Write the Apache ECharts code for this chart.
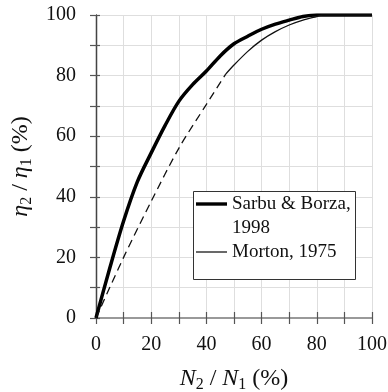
<!DOCTYPE html>
<html>
<head>
<meta charset="utf-8">
<script src="https://cdn.jsdelivr.net/npm/echarts@6/dist/echarts.min.js"></script>
</head>
<body style="margin:0">
<div id="main" style="width: 388px;height:392px;"></div>
<script>
    // 读图得到的数据
    var sarbuX = [0, 5, 10, 15, 20, 25, 30, 35, 40, 45, 50, 55, 60, 65, 70, 75, 80, 100];
    var sarbuY = [0, 16.5, 32, 45, 54.5, 63.5, 71.5, 77, 81.5, 86.5, 90.5, 93, 95.3, 97, 98.3, 99.5, 100, 100];
    var mortonX = [0, 10, 20, 30, 40, 47, 50, 55, 60, 65, 70, 75, 80, 82, 100];
    var mortonY = [0, 20, 38.5, 56, 70.5, 80.5, 83.5, 88, 91.7, 94.5, 96.7, 98.3, 99.5, 100, 100];
    var mortonDashEnd = 47;   // 虚线部分到这里为止
    var ticks = [0, 20, 40, 60, 80, 100];
    var names = ['Sarbu & Borza,\n1998', 'Morton, 1975'];

    function pairs(xs, ys, from, to) {
        var out = [];
        for (var i = 0; i < xs.length; i++) {
            if (xs[i] >= from && xs[i] <= to) out.push([xs[i], ys[i]]);
        }
        return out;
    }

    var font = 'Liberation Serif';
    var myChart = echarts.init(document.getElementById('main'));

    function baseAxis(extra) {
        var a = {
            type: 'value', min: ticks[0], max: ticks[ticks.length - 1], interval: 10,
            axisLine: {show: true, lineStyle: {color: '#555', width: 1.2}},
            axisTick: {show: true, length: 6, lineStyle: {color: '#555', width: 1.2}},
            axisLabel: {show: false},
            splitLine: {show: false}
        };
        return Object.assign(a, extra);
    }

    function tickLabel(v) {
        return ticks.indexOf(v) >= 0 ? String(v) : '';
    }

    var titleRich = {
        i: {fontFamily: font, fontStyle: 'italic', fontSize: 24, color: '#111', lineHeight: 27},
        r: {fontFamily: font, fontSize: 24, color: '#111', lineHeight: 27},
        s: {fontFamily: font, fontSize: 16, color: '#111', lineHeight: 27, padding: [12, 0, 0, 0]}
    };

    var option = {
        animation: false,
        grid: {left: 96, right: 16, top: 15, bottom: 74, outerBoundsMode: 'none'},
        xAxis: [
            baseAxis({
                position: 'bottom',
                axisLabel: {show: true, margin: 17, fontSize: 20, fontFamily: font, color: '#111', formatter: tickLabel},
                splitLine: {show: true, lineStyle: {color: '#dedede', width: 1}},
                name: '{i|N}{s|2}{r| / }{i|N}{s|1}{r| (%)}',
                nameLocation: 'middle', nameGap: 47,
                nameTextStyle: {rich: titleRich}
            }),
            baseAxis({position: 'bottom', axisTick: {show: true, inside: true, length: 6, lineStyle: {color: '#555', width: 1.2}}}),
            baseAxis({position: 'top', axisTick: {show: false}, axisLine: {show: true, lineStyle: {color: '#999', width: 2}}})
        ],
        yAxis: [
            baseAxis({
                position: 'left',
                axisLabel: {show: true, margin: 20, fontSize: 20, fontFamily: font, color: '#111', formatter: tickLabel},
                splitLine: {show: true, lineStyle: {color: '#dedede', width: 1}},
                name: '{i|η}{s|2}{r| / }{i|η}{s|1}{r| (%)}',
                nameLocation: 'middle', nameGap: 47, nameRotate: 90,
                nameTextStyle: {rich: titleRich}
            }),
            baseAxis({position: 'left', axisTick: {show: true, inside: true, length: 4, lineStyle: {color: '#555', width: 1.2}}}),
            baseAxis({position: 'right', axisTick: {show: false}, axisLine: {show: true, lineStyle: {color: '#444', width: 1.2}}})
        ],
        graphic: [{
            type: 'rect', z: 5,
            shape: {x: 193.5, y: 191.5, width: 162, height: 88},
            style: {fill: '#fff', stroke: '#333', lineWidth: 1}
        }],
        legend: {
            orient: 'vertical', left: 196, top: 168, padding: 0, itemGap: 0,
            itemWidth: 31, itemHeight: 14, z: 10,
            textStyle: {fontFamily: font, fontSize: 19, color: '#111', lineHeight: 24},
            formatter: function (n) {
                // 第一项两行字, 图标对齐第一行
                return n === names[0] ? ' \n' + n : n;
            },
            data: [
                {name: names[0], icon: 'path://M0,0H32V3.5H0Z', itemStyle: {color: '#000', borderWidth: 0}},
                {name: names[1], icon: 'path://M0,0H32V1.3H0Z', itemStyle: {color: '#111', borderWidth: 0}}
            ]
        },
        series: [
            {
                name: names[0], type: 'line', symbol: 'none', smooth: 0.3,
                lineStyle: {color: '#000', width: 3.5}, itemStyle: {color: '#000'},
                data: pairs(sarbuX, sarbuY, 0, 100)
            },
            {
                name: names[1], type: 'line', symbol: 'none', smooth: 0.3,
                lineStyle: {color: '#111', width: 1.3}, itemStyle: {color: '#111'},
                data: pairs(mortonX, mortonY, mortonDashEnd, 100)
            },
            {
                name: 'Morton dashed', type: 'line', symbol: 'none', smooth: 0.3,
                lineStyle: {color: '#111', width: 1.3, type: [8, 5]}, itemStyle: {color: '#111'},
                data: pairs(mortonX, mortonY, 0, mortonDashEnd)
            }
        ]
    };
    myChart.setOption(option);
</script>
</body>
</html>
